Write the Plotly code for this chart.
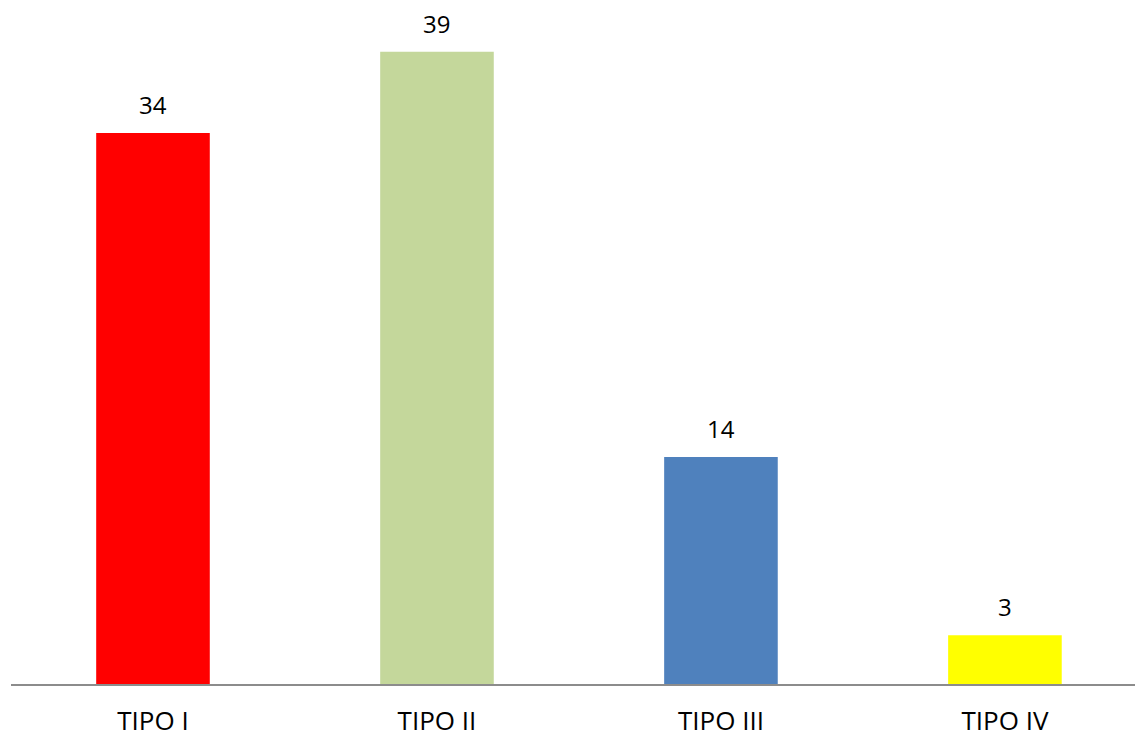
import plotly.graph_objects as go

categories = ["TIPO I", "TIPO II", "TIPO III", "TIPO IV"]
values = [34, 39, 14, 3]
colors = ["#FF0000", "#C4D79B", "#4F81BD", "#FFFF00"]

FONT = "Open Sans"

fig = go.Figure()
fig.add_trace(go.Bar(
    x=categories,
    y=values,
    marker=dict(color=colors, line=dict(width=0)),
    width=0.4,
    showlegend=False,
    hoverinfo="x+y",
))

for c, v in zip(categories, values):
    fig.add_annotation(
        x=c, y=v, text=str(v), showarrow=False,
        yanchor="bottom", yshift=10,
        font=dict(family=FONT, size=24, color="#000000"),
    )

fig.update_layout(
    width=1135, height=738,
    autosize=False,
    margin=dict(l=11, r=0, t=0, b=54, pad=0),
    paper_bgcolor="white",
    plot_bgcolor="white",
    bargap=0.6,
    font=dict(family=FONT, size=26, color="#000000"),
)
fig.update_xaxes(
    type="category",
    range=[-0.5, 3.458],
    automargin=False,
    showline=True, linecolor="#8C8C8C", linewidth=2,
    showgrid=False, zeroline=False,
    ticks="", ticklabelstandoff=13,
    tickfont=dict(family=FONT, size=26, color="#000000"),
)
fig.update_yaxes(
    range=[0, 42.2],
    automargin=False,
    visible=False,
    showgrid=False, zeroline=False,
)

fig.write_html("out.html")
